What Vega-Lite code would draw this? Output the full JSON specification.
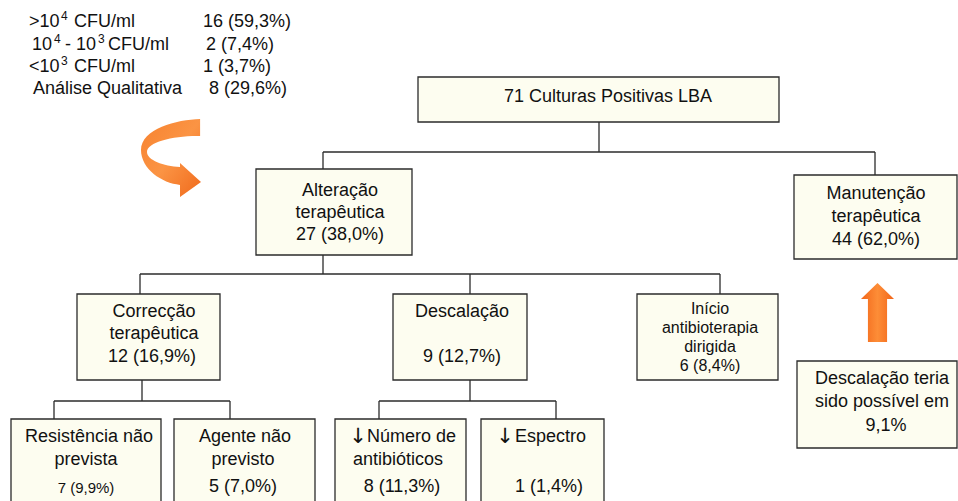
{
  "$schema": "https://vega.github.io/schema/vega-lite/v6.json",
  "width": 958,
  "height": 501,
  "padding": 0,
  "autosize": {"type": "none"},
  "background": "white",
  "config": {"view": {"stroke": null}},
  "datasets": {
    "caixas": [
      {"nome": "LBA", "x": 418, "x2": 779, "y": 77, "y2": 122},
      {"nome": "Alteração", "x": 256, "x2": 412, "y": 169, "y2": 255},
      {"nome": "Manutenção", "x": 794, "x2": 957, "y": 175, "y2": 259},
      {"nome": "Correcção", "x": 77, "x2": 220, "y": 294, "y2": 380},
      {"nome": "Descalação", "x": 393, "x2": 527, "y": 294, "y2": 380},
      {"nome": "Início", "x": 637, "x2": 778, "y": 294, "y2": 380},
      {"nome": "Teria", "x": 797, "x2": 957, "y": 361, "y2": 448},
      {"nome": "Resistência", "x": 11, "x2": 161, "y": 419, "y2": 506},
      {"nome": "Agente", "x": 174, "x2": 315, "y": 419, "y2": 506},
      {"nome": "Número", "x": 335, "x2": 466, "y": 419, "y2": 506},
      {"nome": "Espectro", "x": 481, "x2": 604, "y": 419, "y2": 506}
    ],
    "linhas": [
      {"x": 599, "x2": 599, "y": 122, "y2": 152},
      {"x": 323, "x2": 875, "y": 152, "y2": 152},
      {"x": 323, "x2": 323, "y": 152, "y2": 169},
      {"x": 875, "x2": 875, "y": 152, "y2": 175},
      {"x": 323, "x2": 323, "y": 255, "y2": 274},
      {"x": 140, "x2": 720, "y": 274, "y2": 274},
      {"x": 140, "x2": 140, "y": 274, "y2": 294},
      {"x": 470, "x2": 470, "y": 274, "y2": 294},
      {"x": 720, "x2": 720, "y": 274, "y2": 294},
      {"x": 142, "x2": 142, "y": 380, "y2": 401},
      {"x": 54, "x2": 230, "y": 401, "y2": 401},
      {"x": 54, "x2": 54, "y": 401, "y2": 419},
      {"x": 230, "x2": 230, "y": 401, "y2": 419},
      {"x": 470, "x2": 470, "y": 380, "y2": 401},
      {"x": 379, "x2": 556, "y": 401, "y2": 401},
      {"x": 379, "x2": 379, "y": 401, "y2": 419},
      {"x": 556, "x2": 556, "y": 401, "y2": 419}
    ],
    "legenda": [
      {"x": 29, "y": 22, "t": ">10", "g": "n"},
      {"x": 61, "y": 22, "t": "4", "g": "s"},
      {"x": 74, "y": 22, "t": "CFU/ml", "g": "n"},
      {"x": 203, "y": 22, "t": "16 (59,3%)", "g": "n"},
      {"x": 32, "y": 45, "t": "10", "g": "n"},
      {"x": 54, "y": 45, "t": "4", "g": "s"},
      {"x": 65, "y": 45, "t": "- 10", "g": "n"},
      {"x": 98, "y": 45, "t": "3", "g": "s"},
      {"x": 108, "y": 45, "t": "CFU/ml", "g": "n"},
      {"x": 206, "y": 45, "t": "2 (7,4%)", "g": "n"},
      {"x": 29, "y": 67, "t": "<10", "g": "n"},
      {"x": 61, "y": 67, "t": "3", "g": "s"},
      {"x": 74, "y": 67, "t": "CFU/ml", "g": "n"},
      {"x": 203, "y": 67, "t": "1 (3,7%)", "g": "n"},
      {"x": 33, "y": 89, "t": "Análise Qualitativa", "g": "n"},
      {"x": 209, "y": 89, "t": "8 (29,6%)", "g": "n"}
    ],
    "textos": [
      {"x": 608, "y": 97, "t": "71 Culturas Positivas LBA", "g": "n"},
      {"x": 340, "y": 191, "t": "Alteração", "g": "n"},
      {"x": 340, "y": 213, "t": "terapêutica", "g": "n"},
      {"x": 340, "y": 235, "t": "27 (38,0%)", "g": "n"},
      {"x": 876, "y": 194, "t": "Manutenção", "g": "n"},
      {"x": 876, "y": 217, "t": "terapêutica", "g": "n"},
      {"x": 876, "y": 240, "t": "44 (62,0%)", "g": "n"},
      {"x": 154, "y": 312, "t": "Correcção", "g": "n"},
      {"x": 154, "y": 334, "t": "terapêutica", "g": "n"},
      {"x": 152, "y": 357, "t": "12 (16,9%)", "g": "n"},
      {"x": 462, "y": 312, "t": "Descalação", "g": "n"},
      {"x": 462, "y": 357, "t": "9 (12,7%)", "g": "n"},
      {"x": 710, "y": 309, "t": "Início", "g": "p"},
      {"x": 710, "y": 328, "t": "antibioterapia", "g": "p"},
      {"x": 710, "y": 347, "t": "dirigida", "g": "p"},
      {"x": 710, "y": 366, "t": "6 (8,4%)", "g": "p"},
      {"x": 882, "y": 379, "t": "Descalação teria", "g": "n"},
      {"x": 882, "y": 402, "t": "sido possível em", "g": "n"},
      {"x": 886, "y": 426, "t": "9,1%", "g": "n"},
      {"x": 89, "y": 437, "t": "Resistência não", "g": "n"},
      {"x": 86, "y": 460, "t": "prevista", "g": "n"},
      {"x": 86, "y": 488, "t": "7 (9,9%)", "g": "pp"},
      {"x": 245, "y": 437, "t": "Agente não", "g": "n"},
      {"x": 243, "y": 460, "t": "previsto", "g": "n"},
      {"x": 243, "y": 487, "t": "5 (7,0%)", "g": "n"},
      {"x": 367, "y": 437, "t": "Número de", "g": "e"},
      {"x": 398, "y": 460, "t": "antibióticos", "g": "n"},
      {"x": 402, "y": 487, "t": "8 (11,3%)", "g": "n"},
      {"x": 515, "y": 437, "t": "Espectro", "g": "e"},
      {"x": 549, "y": 487, "t": "1 (1,4%)", "g": "n"},
      {"x": 358, "y": 437, "t": "↓", "g": "seta"},
      {"x": 505, "y": 437, "t": "↓", "g": "seta"}
    ],
    "setas": [
      {"nome": "curva", "x": 171, "y": 157},
      {"nome": "cima", "x": 877.5, "y": 312.5}
    ]
  },
  "encoding": {
    "x": {"field": "x", "type": "quantitative", "scale": {"domain": [0, 958], "nice": false, "zero": false}, "axis": null},
    "y": {"field": "y", "type": "quantitative", "scale": {"domain": [0, 501], "nice": false, "zero": false, "reverse": true}, "axis": null}
  },
  "layer": [
    {
      "data": {"name": "linhas"},
      "mark": {"type": "rule", "stroke": "#2b2b2b", "strokeWidth": 1.3},
      "encoding": {
        "x2": {"field": "x2"},
        "y2": {"field": "y2"}
      }
    },
    {
      "data": {"name": "caixas"},
      "mark": {"type": "rect", "fill": "#fdfdf0", "stroke": "#2b2b2b", "strokeWidth": 1.3},
      "encoding": {
        "x2": {"field": "x2"},
        "y2": {"field": "y2"}
      }
    },
    {
      "data": {"name": "legenda"},
      "transform": [{"filter": "datum.g == 'n'"}],
      "mark": {"type": "text", "align": "left", "baseline": "middle", "font": "Liberation Sans", "fontSize": 18, "color": "#111"},
      "encoding": {"text": {"field": "t"}}
    },
    {
      "data": {"name": "legenda"},
      "transform": [{"filter": "datum.g == 's'"}],
      "mark": {"type": "text", "align": "left", "baseline": "middle", "font": "Liberation Sans", "fontSize": 12, "dy": -6, "color": "#111"},
      "encoding": {"text": {"field": "t"}}
    },
    {
      "data": {"name": "textos"},
      "transform": [{"filter": "datum.g == 'n'"}],
      "mark": {"type": "text", "align": "center", "baseline": "middle", "font": "Liberation Sans", "fontSize": 18, "color": "#111"},
      "encoding": {"text": {"field": "t"}}
    },
    {
      "data": {"name": "textos"},
      "transform": [{"filter": "datum.g == 'e'"}],
      "mark": {"type": "text", "align": "left", "baseline": "middle", "font": "Liberation Sans", "fontSize": 18, "color": "#111"},
      "encoding": {"text": {"field": "t"}}
    },
    {
      "data": {"name": "textos"},
      "transform": [{"filter": "datum.g == 'seta'"}],
      "mark": {"type": "text", "align": "center", "baseline": "middle", "font": "DejaVu Sans", "fontSize": 21, "color": "#111"},
      "encoding": {"text": {"field": "t"}}
    },
    {
      "data": {"name": "textos"},
      "transform": [{"filter": "datum.g == 'p'"}],
      "mark": {"type": "text", "align": "center", "baseline": "middle", "font": "Liberation Sans", "fontSize": 16, "color": "#111"},
      "encoding": {"text": {"field": "t"}}
    },
    {
      "data": {"name": "textos"},
      "transform": [{"filter": "datum.g == 'pp'"}],
      "mark": {"type": "text", "align": "center", "baseline": "middle", "font": "Liberation Sans", "fontSize": 15, "color": "#111"},
      "encoding": {"text": {"field": "t"}}
    },
    {
      "data": {"name": "setas"},
      "transform": [{"filter": "datum.nome == 'curva'"}],
      "mark": {
        "type": "point",
        "filled": true,
        "opacity": 1,
        "strokeWidth": 0,
        "size": 3600,
        "shape": "M0.97,-1.27 C0.2,-1.25 -1,-0.95 -1,-0.23 C-1,0.4 -0.3,0.88 0.3,0.93 L0.3,1.33 L1,0.83 L0.3,0.2 L0.3,0.33 C-0.25,0.3 -0.8,0.1 -0.8,-0.17 C-0.8,-0.5 0.1,-0.72 0.97,-0.7 Z",
        "fill": {"gradient": "linear", "x1": 0, "y1": 0, "x2": 1, "y2": 1, "stops": [{"offset": 0, "color": "#f7822f"}, {"offset": 0.5, "color": "#fb9444"}, {"offset": 1, "color": "#f06a1c"}]}
      }
    },
    {
      "data": {"name": "setas"},
      "transform": [{"filter": "datum.nome == 'cima'"}],
      "mark": {
        "type": "point",
        "filled": true,
        "opacity": 1,
        "strokeWidth": 0,
        "size": 1089,
        "shape": "M0,-1.79 L1,-0.82 L0.58,-0.82 L0.58,1.79 L-0.58,1.79 L-0.58,-0.82 L-1,-0.82 Z",
        "fill": {"gradient": "linear", "x1": 0, "y1": 0, "x2": 1, "y2": 0, "stops": [{"offset": 0, "color": "#f2661a"}, {"offset": 0.5, "color": "#fd8d37"}, {"offset": 1, "color": "#f2661a"}]}
      }
    }
  ]
}
